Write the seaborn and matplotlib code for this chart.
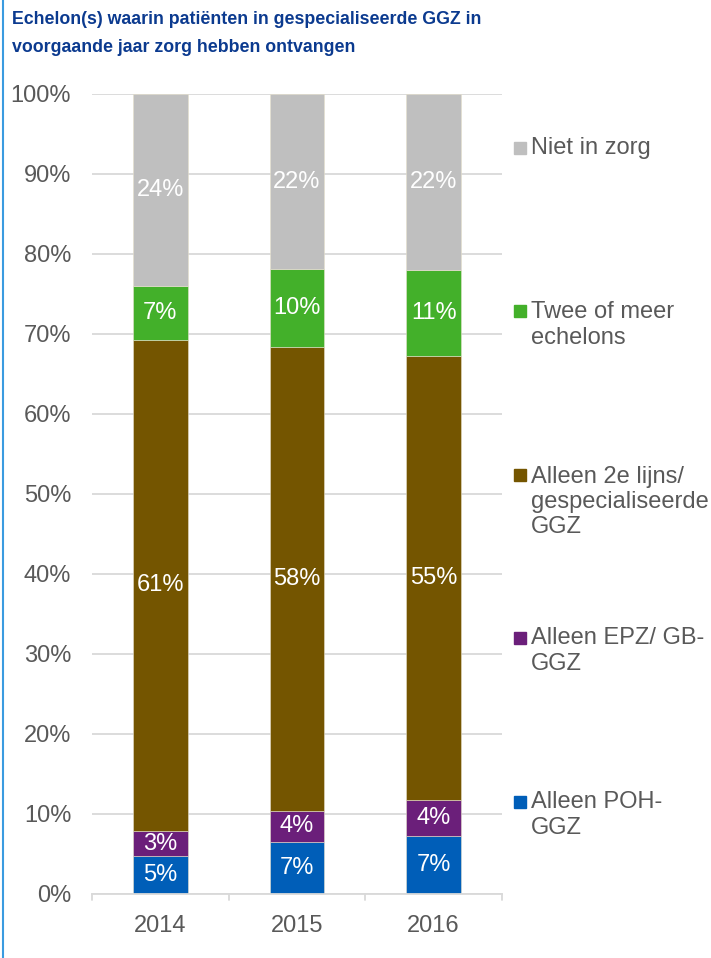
import numpy as np
import pandas as pd
import seaborn as sns
from matplotlib import pyplot as plt
from matplotlib.patches import Rectangle

years = ['2014', '2015', '2016']
series = ['Alleen POH-GGZ', 'Alleen EPZ/ GB-GGZ', 'Alleen 2e lijns/ gespecialiseerde GGZ',
          'Twee of meer echelons', 'Niet in zorg']
poh = [4.7, 6.5, 7.3]
epz = [3.2, 3.9, 4.4]
tweede_lijn = [61.4, 58.0, 55.5]
twee_of_meer = [6.7, 9.7, 10.8]
niet_in_zorg = [24.0, 21.9, 22.0]
value_labels = [['5%', '7%', '7%'], ['3%', '4%', '4%'], ['61%', '58%', '55%'],
                ['7%', '10%', '11%'], ['24%', '22%', '22%']]
legend_text = ['Alleen POH-\nGGZ', 'Alleen EPZ/ GB-\nGGZ', 'Alleen 2e lijns/\ngespecialiseerde\nGGZ',
               'Twee of meer\nechelons', 'Niet in zorg']
title_lines = ['Echelon(s) waarin patiënten in gespecialiseerde GGZ in',
               'voorgaande jaar zorg hebben ontvangen']
colors = ['#005eb8', '#6b1f7a', '#745500', '#43b02a', '#bfbfbf']

sns.set_theme(style='white')
plt.rcParams['font.family'] = ['Liberation Sans', 'DejaVu Sans']
text_grey = '#595959'
grid_grey = '#d9d9d9'
fs = 17

df = pd.DataFrame({'year': years, series[0]: poh, series[1]: epz, series[2]: tweede_lijn,
                   series[3]: twee_of_meer, series[4]: niet_in_zorg})

fig = plt.figure(figsize=(7.11, 9.58), dpi=100)
ax = fig.add_axes([92 / 711, 64 / 958, 410 / 711, 800 / 958])

bottom = np.zeros(len(years))
for k, name in enumerate(series):
    vals = df[name].to_numpy()
    sns.barplot(x=df['year'], y=vals, bottom=bottom, color=colors[k], width=0.4,
                edgecolor='#e6e0cc', linewidth=0.4, ax=ax, saturation=1)
    for i in range(len(years)):
        ax.text(i, bottom[i] + vals[i] / 2, value_labels[k][i], ha='center', va='center',
                color='white', fontsize=fs)
    bottom += vals

ax.set_ylim(0, 100)
ax.set_xlim(-0.5, 2.5)
ax.set_yticks(np.arange(0, 101, 10))
ax.set_yticklabels([f'{v}%' for v in range(0, 101, 10)])
ax.yaxis.grid(True, color=grid_grey, linewidth=1.3)
ax.set_axisbelow(True)
ax.set_xlabel('')
ax.set_ylabel('')
for s in ['top', 'right', 'left']:
    ax.spines[s].set_visible(False)
ax.spines['bottom'].set_color(grid_grey)
ax.spines['bottom'].set_linewidth(1.3)
ax.tick_params(axis='y', length=0, pad=15, labelsize=fs, labelcolor=text_grey)
ax.tick_params(axis='x', length=0, pad=15, labelsize=fs, labelcolor=text_grey)
# category boundary ticks
for xb in [-0.5, 0.5, 1.5, 2.5]:
    ax.plot([xb, xb], [0, -0.8], color=grid_grey, linewidth=1.3, clip_on=False)

# legend on the right, one entry per series (top entry first)
legend_y = [815, 651, 502, 325, 148]
line_h = 27
for k in range(len(series)):
    yc = 1 - legend_y[k] / 958
    n_lines = legend_text[k].count('\n') + 1
    y_first = yc + (n_lines - 1) * (line_h / 2) / 958
    fig.patches.append(Rectangle((514 / 711, y_first - 6 / 958), 12 / 711, 12 / 958,
                                 transform=fig.transFigure, color=colors[k]))
    fig.text(531 / 711, yc, legend_text[k], ha='left', va='center', fontsize=fs,
             color=text_grey, linespacing=1.2)

# title, two lines
for j, line in enumerate(title_lines):
    fig.text(12 / 711, 1 - (20 + 27 * j) / 958, line, ha='left', va='center', fontsize=12.8,
             fontweight='bold', color='#0b3a8f')

# left border line
fig.add_artist(plt.Line2D([3 / 711, 3 / 711], [0, 1], color='#3a9be0', linewidth=1.5,
                          transform=fig.transFigure))

fig.savefig('out.png', dpi=100)
